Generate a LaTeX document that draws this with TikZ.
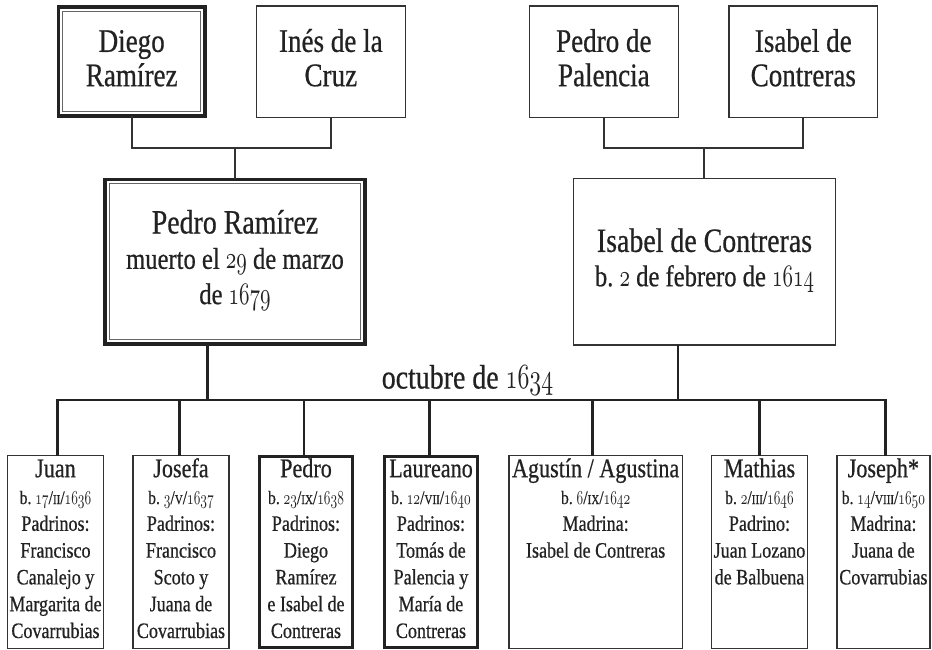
\documentclass[tikz,border=0pt]{standalone}
\usepackage{fontspec}
\setmainfont{Liberation Serif}[FakeStretch=0.82,FakeBold=0.6]
\usepackage{graphicx}
\DeclareFontFamily{OML}{osfdig}{}
\DeclareFontShape{OML}{osfdig}{m}{it}{<-> cmmi10}{}
\definecolor{ink}{HTML}{222222}
\definecolor{framec}{HTML}{333333}
\newcommand\osn[1]{\scalebox{0.7}[1.04]{\usefont{OML}{osfdig}{m}{it}#1}}
\newcommand\rnum[1]{{\fontsize{13.5}{13.5}\selectfont #1}}
\newcommand\kidname[1]{{\fontsize{27}{27}\selectfont\rule{0pt}{21pt}#1}}
\newcommand\kiddate[1]{{\fontsize{19}{19}\selectfont #1}}
\begin{document}
\begin{tikzpicture}[x=1pt,y=-1pt,
  every node/.style={text=ink},
  thinbox/.style={draw=framec, line width=1.3pt, inner sep=0pt, outer sep=0pt},
  thickbox/.style={draw=ink, line width=3.2pt, inner sep=0pt, outer sep=0pt},
  dblbox/.style={draw=ink, line width=3.5pt, inner sep=0pt, outer sep=0pt},
  innerframe/.style={draw=framec!75, line width=1.1pt},
  topname/.style={inner sep=0pt, anchor=north, align=center, font=\fontsize{33}{34.3}\selectfont},
  bigname/.style={inner sep=0pt, anchor=north, align=center, font=\fontsize{30}{35.3}\selectfont},
  kidtext/.style={inner sep=0pt, anchor=north, align=center, font=\fontsize{22}{26.8}\selectfont},
  uplink/.style={draw=framec, line width=1.8pt},
  downlink/.style={draw=ink, line width=2.6pt},
]
\useasboundingbox (0,0) rectangle (932,650);

% ---- top row ----
\node[dblbox, minimum width=146.5pt, minimum height=109.2pt] (diego) at (131.7,61.65) {};
\draw[innerframe] ([shift={(4.4,4.4)}]diego.north west) rectangle ([shift={(-4.4,-4.4)}]diego.south east);
\node[thinbox, minimum width=149pt, minimum height=111.4pt] (ines) at (330.85,61.65) {};
\node[thinbox, minimum width=149pt, minimum height=111.4pt] (pdp) at (603.85,61.65) {};
\node[thinbox, minimum width=148.7pt, minimum height=111.4pt] (idc) at (803.3,61.65) {};

\node[topname] (diegot) at (131.7,26.7) {\rule{0pt}{25pt}Diego\\Ramírez};
\node[topname] (inest) at (330.85,26.7) {\rule{0pt}{25pt}Inés de la\\Cruz};
\node[topname] (pdpt) at (603.85,26.7) {\rule{0pt}{25pt}Pedro de\\Palencia};
\node[topname] (idct) at (803.3,26.7) {\rule{0pt}{25pt}Isabel de\\Contreras};

% ---- parents ----
\node[dblbox, minimum width=259.9pt, minimum height=164.5pt] (pedro) at (235,261.7) {};
\draw[innerframe] ([shift={(4.4,4.4)}]pedro.north west) rectangle ([shift={(-4.4,-4.4)}]pedro.south east);
\node[thinbox, minimum width=262pt, minimum height=166.7pt] (isabel) at (704.35,261.7) {};

\node[bigname] (pedrot) at (235,205.3) {{\fontsize{34}{35}\selectfont\rule{0pt}{28pt}Pedro Ramírez}\\muerto el \osn{29} de marzo\\de \osn{1679}};
\node[bigname, font=\fontsize{30}{34.3}\selectfont] (isabelt) at (704.5,223.7) {{\fontsize{34}{35}\selectfont\rule{0pt}{28pt}Isabel de Contreras}\\b.\ \osn{2} de febrero de \osn{1614}};

% ---- upper connectors ----
\coordinate (jl) at (235,147.7);
\coordinate (jr) at (704.35,147.7);
\draw[uplink] (diego.south) |- (jl) -| (ines.south);
\draw[uplink] (jl) -- (pedro.north);
\draw[uplink] (pdp.south) |- (jr) -| (idc.south);
\draw[uplink] (jr) -- (isabel.north);

% ---- children ----
\node[thinbox, minimum width=96.3pt, minimum height=192.7pt] (juan) at (55.5,552) {};
\node[thinbox, minimum width=96.1pt, minimum height=192.7pt] (josefa) at (181,552) {};
\node[thickbox, minimum width=93.4pt, minimum height=190.8pt] (pedroh) at (306,552) {};
\node[thickbox, minimum width=93.4pt, minimum height=190.8pt] (laureano) at (431,552) {};
\node[thinbox, minimum width=173.4pt, minimum height=192.7pt] (agustin) at (595.65,552) {};
\node[thinbox, minimum width=96.3pt, minimum height=192.7pt] (mathias) at (759.5,552) {};
\node[thinbox, minimum width=92.9pt, minimum height=192.7pt] (joseph) at (883.4,552) {};

\node[kidtext] (juant) at (55.5,456) {\kidname{Juan}\\\kiddate{b.\ \osn{17}/\rnum{II}/\osn{1636}}\\Padrinos:\\Francisco\\Canalejo y\\Margarita de\\Covarrubias};
\node[kidtext] (josefat) at (181,456) {\kidname{Josefa}\\\kiddate{b.\ \osn{3}/\rnum{V}/\osn{1637}}\\Padrinos:\\Francisco\\Scoto y\\Juana de\\Covarrubias};
\node[kidtext] (pedroht) at (306,456) {\kidname{Pedro}\\\kiddate{b.\ \osn{23}/\rnum{IX}/\osn{1638}}\\Padrinos:\\Diego\\Ramírez\\e Isabel de\\Contreras};
\node[kidtext] (laureanot) at (431,456) {\kidname{Laureano}\\\kiddate{b.\ \osn{12}/\rnum{VII}/\osn{1640}}\\Padrinos:\\Tomás de\\Palencia y\\María de\\Contreras};
\node[kidtext] (agustint) at (595.65,456) {\kidname{Agustín / Agustina}\\\kiddate{b.\ \osn{6}/\rnum{IX}/\osn{1642}}\\Madrina:\\Isabel de Contreras};
\node[kidtext] (mathiast) at (759.5,456) {\kidname{Mathias}\\\kiddate{b.\ \osn{2}/\rnum{III}/\osn{1646}}\\Padrino:\\Juan Lozano\\de Balbuena};
\node[kidtext] (josepht) at (883.4,456) {\kidname{Joseph*}\\\kiddate{b.\ \osn{14}/\rnum{VIII}/\osn{1650}}\\Madrina:\\Juana de\\Covarrubias};

% ---- marriage label ----
\node[font=\fontsize{34}{34}\selectfont, anchor=base, inner sep=0pt] (oct) at (467.5,388.5) {octubre de \osn{1634}};

% ---- lower connectors ----
\coordinate (dl) at (207.7,400);
\coordinate (dr) at (678,400);
\coordinate (b1) at (57.3,400);
\coordinate (b2) at (179.3,400);
\coordinate (b3) at (304,400);
\coordinate (b4) at (429.3,400);
\coordinate (b5) at (592.3,400);
\coordinate (b6) at (759.7,400);
\coordinate (b7) at (885.3,400);
\draw[downlink] (dl |- pedro.south) -- (dl);
\draw[downlink] (dr |- isabel.south) -- (dr);
\draw[downlink] (b1 |- juan.north) -- (b1) -- (b7) -- (b7 |- joseph.north);
\draw[downlink] (b2) -- (b2 |- josefa.north);
\draw[downlink] (b3) -- (b3 |- pedroh.north);
\draw[downlink] (b4) -- (b4 |- laureano.north);
\draw[downlink] (b5) -- (b5 |- agustin.north);
\draw[downlink] (b6) -- (b6 |- mathias.north);
\end{tikzpicture}
\end{document}
